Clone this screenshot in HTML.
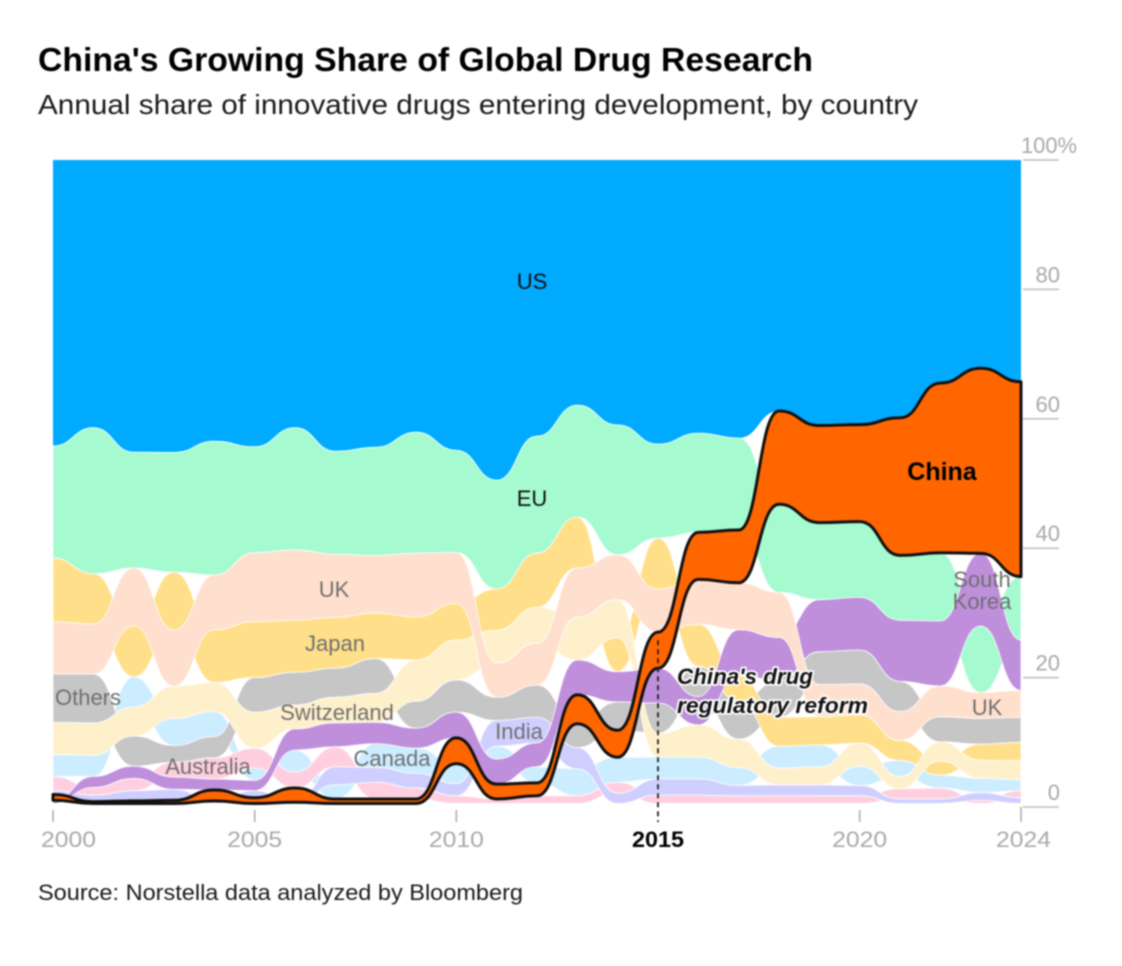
<!DOCTYPE html>
<html lang="en">
<head>
<meta charset="utf-8">
<title>China's Growing Share of Global Drug Research</title>
<style>
  html,body{margin:0;padding:0;background:#fff;}
  body{width:1122px;height:966px;overflow:hidden;}
  svg{display:block;font-family:"Liberation Sans",sans-serif;filter:blur(.7px);}
  .lbl{font-size:22px;fill:#6f6f6f;text-anchor:middle;}
  .tick{font-size:22px;fill:#a9a9a9;}
</style>
</head>
<body>
<svg id="chart" width="1122" height="966" viewBox="0 0 1122 966" xmlns="http://www.w3.org/2000/svg">
  <text x="38" y="71" font-size="33" font-weight="700" fill="#000" textLength="775" lengthAdjust="spacingAndGlyphs">China's Growing Share of Global Drug Research</text>
  <text x="38" y="114" font-size="28" fill="#1a1a1a" textLength="880" lengthAdjust="spacingAndGlyphs">Annual share of innovative drugs entering development, by country</text>
  <g id="bands"></g>
  <g id="axes"></g>

  <text class="lbl" x="532" y="289" style="fill:#111">US</text>
  <text class="lbl" x="532" y="506" style="fill:#111">EU</text>
  <text class="lbl" x="334" y="597">UK</text>
  <text class="lbl" x="335" y="651">Japan</text>
  <text class="lbl" x="88" y="705">Others</text>
  <text class="lbl" x="337" y="720">Switzerland</text>
  <text class="lbl" x="392" y="766">Canada</text>
  <text class="lbl" x="208" y="774">Australia</text>
  <text class="lbl" x="519" y="739">India</text>
  <text class="lbl" x="942" y="480" style="fill:#000;font-size:25px;font-weight:700">China</text>
  <text class="lbl" x="982" y="587">South</text>
  <text class="lbl" x="982" y="609">Korea</text>
  <text class="lbl" x="987" y="715">UK</text>

  <g font-size="22" font-weight="700" font-style="italic" fill="#111" stroke-linejoin="round">
    <text x="677" y="684" stroke="#fff" stroke-width="3.5" textLength="136" lengthAdjust="spacingAndGlyphs">China's drug</text>
    <text x="677" y="713" stroke="#fff" stroke-width="3.5" textLength="191" lengthAdjust="spacingAndGlyphs">regulatory reform</text>
    <text x="677" y="684" textLength="136" lengthAdjust="spacingAndGlyphs">China's drug</text>
    <text x="677" y="713" textLength="191" lengthAdjust="spacingAndGlyphs">regulatory reform</text>
  </g>

  <text x="38" y="900" font-size="22" fill="#1a1a1a" textLength="485" lengthAdjust="spacingAndGlyphs">Source: Norstella data analyzed by Bloomberg</text>
</svg>

<script>
const years = [2000,2001,2002,2003,2004,2005,2006,2007,2008,2009,2010,2011,2012,2013,2014,2015,2016,2017,2018,2019,2020,2021,2022,2023,2024];
const xTickYears = [2000,2005,2010,2015,2020,2024];
const yTickValues = [0,20,40,60,80,100];
const highlightYear = 2015;

const usShares = [44.4,41.6,45.4,45.4,43.7,44.6,41.6,45.2,44.6,42.3,45.1,49.7,42.9,38.1,41.2,44.1,42.4,43.2,39.0,41.3,41.2,40.1,34.7,32.3,34.5];
const euShares = [17.4,22.7,18.0,18.6,20.8,16.5,19.0,16.0,16.8,18.8,15.9,16.9,18.2,17.4,20.2,14.6,15.4,14.3,13.7,12.0,11.8,10.1,10.6,10.3,9.9];
const chinaShares = [0.9,0.3,0.4,0.5,1.7,0.9,2.2,0.7,0.7,0.7,4.0,2.3,2.0,4.5,4.2,5.6,7.3,8.2,14.5,15.1,15.1,21.4,26.4,28.7,30.3];
const ukShares = [8.1,7.8,9.0,8.7,8.5,10.7,10.9,9.8,8.9,9.9,7.9,5.3,6.5,7.6,7.0,6.7,7.0,7.3,7.0,5.0,4.8,4.5,4.8,4.0,4.2];
const japanShares = [9.9,7.8,7.9,9.0,8.2,8.7,8.1,7.9,7.1,6.7,5.7,6.4,8.4,7.9,5.3,7.9,6.5,4.0,4.5,4.4,4.4,3.1,2.2,2.5,2.8];
const othersShares = [7.5,7.6,4.7,2.6,3.3,5.4,5.1,4.5,5.4,4.2,5.0,3.6,5.0,3.7,4.4,4.7,4.7,5.9,5.7,5.1,5.3,4.7,3.9,4.0,3.9];
const switzerlandShares = [5.0,5.0,4.5,5.0,4.5,5.6,3.7,4.0,4.5,6.4,6.2,5.1,5.6,6.7,5.9,3.7,5.0,4.4,2.6,2.8,3.6,1.9,3.0,2.8,3.0];
const southKoreaShares = [0.5,1.7,1.9,1.9,1.7,1.6,3.3,3.7,3.3,3.1,4.0,3.9,3.7,5.4,4.7,5.4,4.4,7.1,6.7,8.1,8.2,9.5,10.1,11.3,7.8];
const canadaShares = [3.4,3.3,4.7,4.2,3.9,1.9,3.4,2.2,3.7,3.9,3.1,2.0,2.5,4.2,3.9,3.4,3.4,2.8,3.4,3.4,3.0,2.5,2.0,2.2,1.7];
const australiaShares = [2.2,1.2,1.9,2.3,3.3,3.1,2.5,3.1,2.6,1.7,1.2,0.7,1.2,1.2,1.7,1.3,1.3,1.2,1.2,1.2,1.2,1.6,1.7,0.5,1.1];
const indiaShares = [0.6,1.0,1.6,1.7,0.4,1.1,0.2,2.8,2.3,2.3,1.9,4.0,4.0,3.3,1.6,2.5,2.5,1.6,1.7,1.7,1.6,0.7,0.7,1.2,0.9];

/* Rank order per year, bottom of the stack to top. S=US E=EU H=China U=UK Y=Japan G=Others C=Switzerland K=South Korea B=Canada P=Australia L=India */
const stackOrder = [
  "KHLPBCGUYES","HLPKBCGUYES","HLPKGCBYUES","HLKPGBCUYES","LHKPGBCYUES",
  "HLKBPCGYUES","LHPBKCGYUES","HBLPKCGYUES","HPLBKCGYUES","HPLBKGCYUES",
  "PLBHKGCYUES","PHKBLGUCYES","PHBKLGUCYES","PBLGHKCUYES","LPBHGKYCUES",
  "PLBCGKHUYES","PLBCKGYUHES","PLBCGYKUHES","PLCBYGKUEHS","PLCBYUGKEHS",
  "PLBCYUGKEHS","LPCBYUGKEHS","LPBYCGUKEHS","PLBCYGUEKHS","LPBCYGUKEHS"
];

const seriesShares = {S:usShares,E:euShares,H:chinaShares,U:ukShares,Y:japanShares,G:othersShares,C:switzerlandShares,K:southKoreaShares,B:canadaShares,P:australiaShares,L:indiaShares};
const seriesNames = {S:'us',E:'eu',H:'china',U:'uk',Y:'japan',G:'others',C:'switzerland',K:'south-korea',B:'canada',P:'australia',L:'india'};
const seriesColors = {S:'#00aaff',E:'#a5fad0',H:'#ff6600',U:'#ffdfcd',Y:'#ffdf8a',G:'#c6c6c6',C:'#fff0cc',K:'#bf8fdc',B:'#ccecff',P:'#ffcfdf',L:'#cfcfff'};
const paintOrder = ['S','E','B','P','L','G','Y','C','K','U','H'];

const SVGNS = 'http://www.w3.org/2000/svg';
const xPos = y => 53 + (y - 2000) * (1021 - 53) / 24;
const bandY = v => 803.5 - v * (803.5 - 160) / 100;
const tickY = v => 807 - v * (807 - 160) / 100;

function stackYear(i){
  const order = stackOrder[i].split('');
  const total = order.reduce((s,c)=>s+seriesShares[c][i],0);
  const out = {};
  let cum = 0;
  order.forEach(c=>{
    const next = cum + seriesShares[c][i] / total * 100;
    out[c] = [cum,next];
    cum = next;
  });
  return out;
}
const stacks = years.map((_,i)=>stackYear(i));

function bump(points){
  let d = '';
  for(let i=1;i<points.length;i++){
    const a = points[i-1], b = points[i], m = (a[0]+b[0])/2;
    d += 'C'+m.toFixed(2)+' '+a[1].toFixed(2)+' '+m.toFixed(2)+' '+b[1].toFixed(2)+' '+b[0].toFixed(2)+' '+b[1].toFixed(2);
  }
  return d;
}
function bandPath(code){
  const top = years.map((y,i)=>[xPos(y),bandY(stacks[i][code][1])]);
  const bot = years.map((y,i)=>[xPos(y),bandY(stacks[i][code][0])]).reverse();
  return 'M'+top[0][0]+' '+top[0][1].toFixed(2)+bump(top)+'L'+bot[0][0]+' '+bot[0][1].toFixed(2)+bump(bot)+'Z';
}

const bandsGroup = document.getElementById('bands');
paintOrder.forEach(code=>{
  const p = document.createElementNS(SVGNS,'path');
  
  
  p.setAttribute('d', bandPath(code));
  p.setAttribute('fill', seriesColors[code]);
  if(code === 'H'){
    p.setAttribute('stroke', '#111');
    p.setAttribute('stroke-width', '3');
    p.setAttribute('stroke-linejoin', 'round');
  } else if(code !== 'S'){
    p.setAttribute('stroke', '#fff');
    p.setAttribute('stroke-width', '0.8');
  }
  bandsGroup.appendChild(p);
});

const axesGroup = document.getElementById('axes');
function addLine(x1,y1,x2,y2,stroke,width,dash,name){
  const l = document.createElementNS(SVGNS,'line');
  
  
  l.setAttribute('x1',x1);l.setAttribute('y1',y1);l.setAttribute('x2',x2);l.setAttribute('y2',y2);
  l.setAttribute('stroke',stroke);l.setAttribute('stroke-width',width);
  if(dash) l.setAttribute('stroke-dasharray',dash);
  axesGroup.appendChild(l);
}
yTickValues.forEach(v=>{
  addLine(1023,tickY(v),1059,tickY(v),'#bdbdbd',1.5,null,'y-gridline-'+v);
  const t = document.createElementNS(SVGNS,'text');
  
  
  t.setAttribute('class','tick');
  t.setAttribute('y',tickY(v)-7);
  if(v===100){
    t.setAttribute('x',1021);
    t.setAttribute('textLength','56');
    t.setAttribute('lengthAdjust','spacingAndGlyphs');
    t.textContent = v + '%';
  } else {
    t.setAttribute('x',1060);
    t.setAttribute('text-anchor','end');
    t.textContent = String(v);
  }
  axesGroup.appendChild(t);
});
xTickYears.forEach(y=>{
  const x = xPos(y);
  const hi = y === highlightYear;
  if(hi){
    addLine(x,bandY(stacks[years.indexOf(y)].H[0])-28,x,822,'#222',1.8,'5 4','highlight-reference-line');
  } else {
    addLine(x,y===2024?807:810,x,822,'#a9a9a9',1.5,null,'x-tick-'+y);
  }
  const t = document.createElementNS(SVGNS,'text');
  
  
  t.setAttribute('x',x+(y===2000?15.5:y===2024?2.5:0));
  t.setAttribute('y',847);
  t.setAttribute('text-anchor','middle');
  t.setAttribute('class','tick');
  t.setAttribute('textLength',hi?'52':'55');
  t.setAttribute('lengthAdjust','spacingAndGlyphs');
  if(hi){ t.setAttribute('style','fill:#000;font-weight:700'); }
  t.textContent = String(y);
  axesGroup.appendChild(t);
});
</script>
</body>
</html>
